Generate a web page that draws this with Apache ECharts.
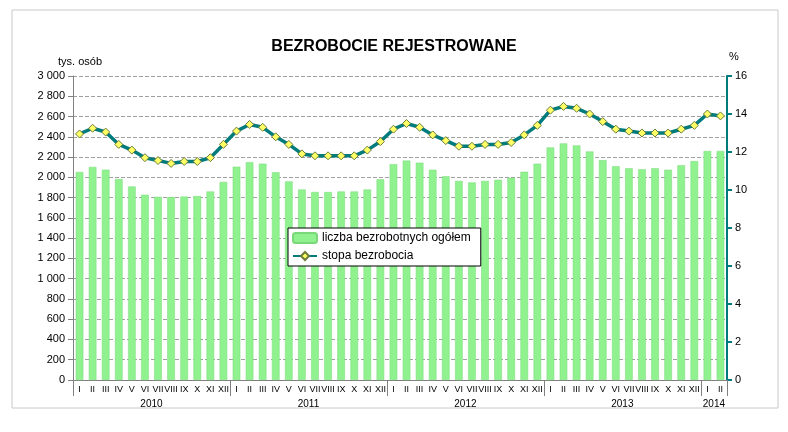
<!DOCTYPE html>
<html><head><meta charset="utf-8">
<script src="https://cdn.jsdelivr.net/npm/echarts@6/dist/echarts.min.js"></script>
<style>html,body{margin:0;background:#fff}#c{width:788px;height:432px}</style>
</head><body><div id="c"></div>
<script>
// miesiące i lata
const months = ['I','II','III','IV','V','VI','VII','VIII','IX','X','XI','XII'];
const years = ['2010','2011','2012','2013','2014'];
const categories = [];
years.forEach(y => { (y === '2014' ? months.slice(0,2) : months).forEach(m => categories.push(m)); });

// liczba bezrobotnych ogółem (tys. osób)
const unemployed = [
  2053,2103,2076,1983,1910,1828,1808,1805,1810,1815,1860,1955,
  2105,2150,2135,2050,1960,1880,1855,1855,1860,1860,1880,1980,
  2130,2165,2145,2075,2010,1965,1950,1965,1975,1995,2055,2135,
  2295,2335,2315,2255,2170,2110,2090,2080,2090,2075,2120,2160,
  2260,2260
];
// stopa bezrobocia (%)
const rate = [
  12.95,13.25,13.05,12.4,12.1,11.7,11.55,11.4,11.5,11.5,11.7,12.4,
  13.1,13.45,13.3,12.8,12.4,11.9,11.8,11.8,11.8,11.8,12.1,12.55,
  13.2,13.5,13.3,12.9,12.6,12.3,12.3,12.4,12.4,12.5,12.9,13.4,
  14.2,14.4,14.3,14.0,13.6,13.2,13.1,13.0,13.0,13.0,13.2,13.4,
  14.0,13.9
];

// druga oś: półmiesięczne punkty, rok na środku swojego zakresu
const yearStarts = [0,24,48,72,96,100];
const yearAxis = [];
for (let k = 0; k <= 100; k++) yearAxis.push('');
[12,36,60,84,98].forEach((k,i) => yearAxis[k] = years[i]);

const chart = echarts.init(document.getElementById('c'));
chart.setOption({
  animation: false,
  textStyle: {fontFamily: 'Liberation Sans, Arial, sans-serif'},
  title: {text: 'BEZROBOCIE REJESTROWANE', left: 'center', top: 34,
    textStyle: {fontSize: 16, fontWeight: 'bold', color: '#000'}},
  graphic: [
    {type: 'rect', shape: {x: 12, y: 10, width: 766, height: 398},
     style: {fill: 'none', stroke: '#c8c8c8', lineWidth: 1}},
    {type: 'text', left: 58, top: 56, style: {text: 'tys. osób', fontSize: 11, fill: '#000'}},
    {type: 'text', left: 729, top: 51, style: {text: '%', fontSize: 11, fill: '#000'}}
  ],
  legend: {
    left: 288, top: 228, orient: 'vertical', itemGap: 6,
    backgroundColor: '#fff', borderColor: '#000', borderWidth: 1, padding: [4, 10, 4, 4],
    itemWidth: 24, itemHeight: 10,
    textStyle: {fontSize: 12, color: '#000'},
    data: ['liczba bezrobotnych ogółem', 'stopa bezrobocia']
  },
  grid: {left: 73, right: 61, top: 76, bottom: 52},
  xAxis: [
    {type: 'category', data: categories,
     axisLine: {lineStyle: {color: '#808080'}},
     axisTick: {length: 14, lineStyle: {color: '#808080'}},
     axisLabel: {interval: 0, fontSize: 9, color: '#000', margin: 5}},
    {type: 'category', data: yearAxis, position: 'bottom', offset: 14, boundaryGap: false,
     axisLine: {show: false},
     axisTick: {length: 16, interval: (i) => yearStarts.includes(i), lineStyle: {color: '#808080'}},
     axisLabel: {interval: 0, fontSize: 10, color: '#000', margin: 5}}
  ],
  yAxis: [
    {type: 'value', min: 0, max: 3000, interval: 200,
     axisLine: {show: true, lineStyle: {color: '#808080'}},
     axisTick: {show: true, lineStyle: {color: '#808080'}},
     axisLabel: {fontSize: 11, color: '#000', formatter: v => v >= 1000 ? String(v).replace(/(\d)(\d{3})$/, '$1 $2') : v},
     splitLine: {lineStyle: {color: '#a0a0a0', type: 'dashed'}}},
    {type: 'value', min: 0, max: 16, interval: 2, position: 'right',
     axisLine: {show: true, lineStyle: {color: '#007b7b', width: 2}},
     axisTick: {show: true, lineStyle: {color: '#007b7b', width: 2}},
     axisLabel: {fontSize: 11, color: '#000'},
     splitLine: {show: false}}
  ],
  series: [
    {name: 'liczba bezrobotnych ogółem', type: 'bar', data: unemployed, barWidth: '58%',
     itemStyle: {color: '#8ff28f', borderColor: '#7ad87a', borderWidth: 0.5}},
    {name: 'stopa bezrobocia', type: 'line', yAxisIndex: 1, data: rate,
     symbol: 'diamond', symbolSize: 8,
     lineStyle: {color: '#007b7b', width: 3.5},
     itemStyle: {color: '#ffff66', borderColor: '#6b7b3a', borderWidth: 1}}
  ]
});
</script></body></html>
